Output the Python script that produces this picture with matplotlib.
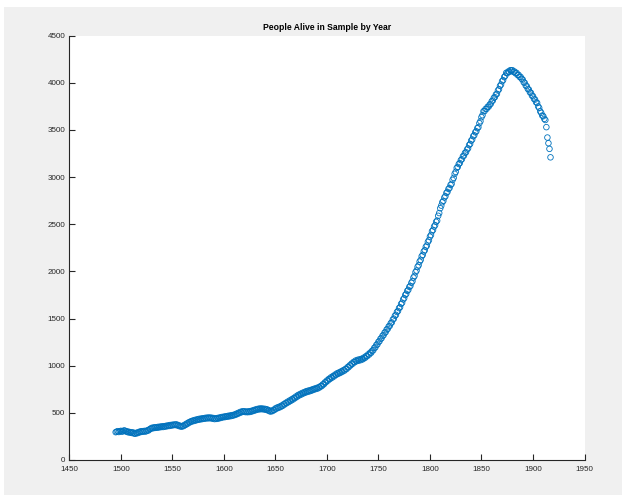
import matplotlib
matplotlib.use("Agg")
import matplotlib.pyplot as plt
from matplotlib.patches import Rectangle
import numpy as np

plt.rcParams['font.family'] = ['Liberation Sans', 'DejaVu Sans']

start_year = 1495
alive = [
    295, 300, 306, 297, 304,
    309, 301, 305, 313, 311, 302, 304, 294, 299, 290,
    295, 286, 292, 281, 279, 288, 284, 296, 292, 304,
    298, 306, 301, 309, 302, 308, 316, 314, 327, 332,
    341, 336, 346, 340, 348, 342, 351, 345, 354, 349,
    357, 350, 359, 354, 363, 358, 367, 361, 371, 365,
    374, 369, 377, 371, 378, 366, 370, 358, 361, 353,
    362, 360, 374, 373, 387, 386, 400, 399, 411, 408,
    419, 414, 425, 420, 431, 426, 436, 430, 440, 434,
    443, 437, 447, 441, 450, 442, 451, 443, 449, 438,
    445, 434, 442, 436, 446, 440, 451, 446, 456, 452,
    460, 455, 464, 459, 468, 462, 472, 466, 476, 471,
    481, 478, 490, 487, 500, 497, 510, 506, 517, 511,
    516, 508, 514, 507, 516, 509, 519, 514, 526, 521,
    533, 529, 540, 535, 545, 538, 547, 539, 545, 536,
    542, 532, 537, 524, 527, 514, 520, 518, 531, 530,
    547, 544, 558, 553, 566, 562, 577, 574, 591, 589,
    606, 603, 619, 615, 632, 628, 645, 641, 659, 655,
    674, 670, 689, 684, 700, 694, 711, 705, 720, 714,
    730, 722, 736, 728, 741, 735, 750, 744, 757, 752,
    764, 758, 772, 770, 785, 784, 802, 802, 823, 824,
    843, 842, 861, 859, 877, 873, 891, 887, 906, 903,
    920, 914, 930, 924, 941, 936, 953, 948, 966, 964,
    984, 983, 1003, 1003, 1023, 1021, 1041, 1037, 1055, 1049,
    1063, 1054, 1068, 1060, 1075, 1069, 1087, 1083, 1102, 1100,
    1120, 1118, 1139, 1138, 1160, 1164, 1190, 1194, 1221, 1226,
    1253, 1259, 1286, 1291, 1318, 1324, 1351, 1356, 1384, 1390,
    1417, 1423, 1451, 1459, 1490, 1499, 1530, 1539, 1570, 1580,
    1611, 1620, 1655, 1668, 1703, 1716, 1750, 1762, 1794, 1804,
    1836, 1846, 1879, 1896, 1935, 1952, 1992, 2009, 2048, 2065,
    2104, 2122, 2161, 2175, 2211, 2225, 2261, 2274, 2313, 2330,
    2369, 2386, 2426, 2440, 2476, 2490, 2526, 2539, 2590, 2619,
    2670, 2698, 2734, 2748, 2784, 2798, 2833, 2843, 2875, 2885,
    2917, 2928, 2971, 2992, 3035, 3056, 3098, 3108, 3139, 3149,
    3180, 3190, 3221, 3228, 3257, 3264, 3293, 3305, 3340, 3352,
    3387, 3399, 3434, 3444, 3476, 3486, 3519, 3529, 3572, 3593,
    3636, 3657, 3699, 3700, 3723, 3724, 3746, 3747, 3770, 3777,
    3805, 3812, 3841, 3848, 3876, 3883, 3919, 3932, 3968, 3982,
    4017, 4028, 4061, 4073, 4106, 4102, 4120, 4116, 4134, 4130,
    4134, 4116, 4120, 4102, 4106, 4084, 4085, 4063, 4063, 4042,
    4035, 4006, 4000, 3971, 3964, 3935, 3929, 3900, 3894, 3865,
    3858, 3830, 3823, 3794, 3788, 3750, 3735, 3698, 3682, 3653,
    3646, 3618, 3606, 3530, 3420, 3360, 3300, 3210,
]
years = list(range(start_year, start_year + len(alive)))

x_ticks = [1450, 1500, 1550, 1600, 1650, 1700, 1750, 1800, 1850, 1900, 1950]
y_ticks = [0, 500, 1000, 1500, 2000, 2500, 3000, 3500, 4000, 4500]
title = "People Alive in Sample by Year"

W, H = 622, 495
fig = plt.figure(figsize=(W / 100, H / 100), dpi=100, facecolor='white')
fig.patches.append(Rectangle((4 / W, 0), 1, (H - 7) / H, transform=fig.transFigure,
                             facecolor='#f0f0f0', edgecolor='none', zorder=-10))

ax = fig.add_axes([69.3 / W, (H - 460) / H, (584.5 - 69.3) / W, (460 - 35.7) / H])
ax.set_facecolor('white')
ax.scatter(years, alive, s=16, facecolors='none', edgecolors='#0072BD', linewidths=0.6)

ax.set_xlim(1450, 1950)
ax.set_ylim(0, 4500)
ax.set_xticks(x_ticks)
ax.set_yticks(y_ticks)
ax.set_xticklabels([str(v) for v in x_ticks])
ax.set_yticklabels([str(v) for v in y_ticks])

for s in ['top', 'right']:
    ax.spines[s].set_visible(False)
for s in ['left', 'bottom']:
    ax.spines[s].set_color('#262626')
    ax.spines[s].set_linewidth(0.8)

ax.tick_params(axis='both', direction='in', length=4, width=0.8, color='#262626',
               labelsize=5.8, labelcolor='#262626')
ax.tick_params(axis='x', pad=4)
ax.tick_params(axis='y', pad=3)

ax.set_title(title, fontsize=6.2, fontweight='bold', color='black', pad=4)

fig.savefig('out.png', dpi=100, facecolor=fig.get_facecolor())
